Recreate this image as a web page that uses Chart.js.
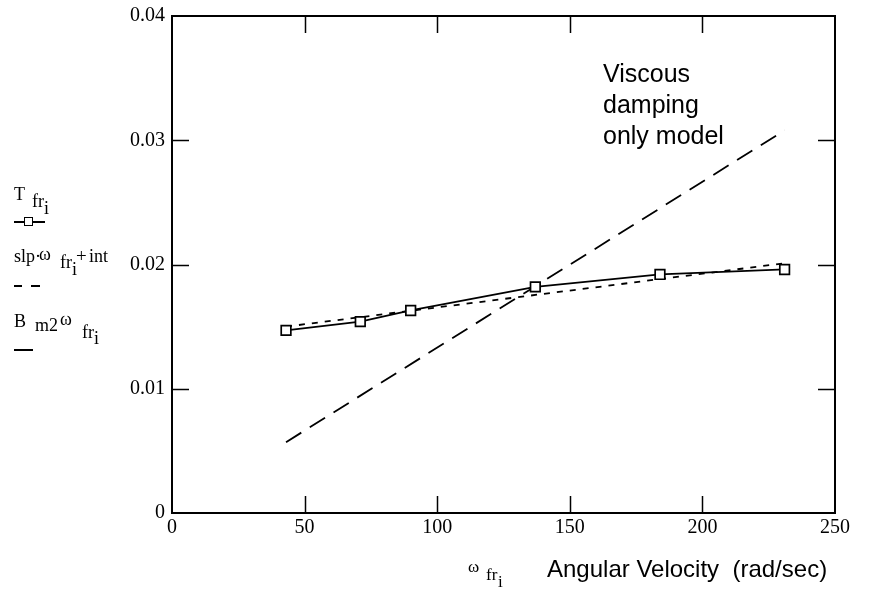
<!DOCTYPE html>
<html>
<head>
<meta charset="utf-8">
<script src="https://cdn.jsdelivr.net/npm/chart.js@4"></script>
<style>
  body { margin: 0; background: #fff; }
  #wrap { position: relative; width: 889px; height: 590px; overflow: hidden; }
  #grafica { position: absolute; left: 0; top: 0; }
  .txt { position: absolute; white-space: pre; line-height: 1; color: #000; }
  .serif { font-family: "Liberation Serif", "Times New Roman", serif; }
  .sans { font-family: "Liberation Sans", Arial, sans-serif; }
  .sym { position: absolute; background: #000; }
</style>
</head>
<body>
<div id="wrap">
  <canvas id="grafica" width="889" height="590"></canvas>
</div>
<script>
// datos
const omegaFr = [43, 71, 90, 137, 184, 231];          // rad/sec
const torqueFr = [0.0147, 0.0154, 0.0163, 0.0182, 0.0192, 0.0196];
const ajusteX = [43, 231];                              // slp*w + int
const ajusteY = [0.0150, 0.0201];
const viscosoX = [43, 231];                             // Bm2*w
const viscosoY = [0.0057, 0.0308];
const ticksX = [0, 50, 100, 150, 200, 250];
const ticksY = [0, 0.01, 0.02, 0.03, 0.04];

const pares = (xs, ys) => xs.map((x, i) => ({ x: x, y: ys[i] }));

// marco y marcas hacia adentro (estilo Mathcad)
const marcoPlugin = {
  id: "marco",
  afterDatasetsDraw(chart) {
    const { ctx, chartArea: a, scales } = chart;
    const L = 17;
    ctx.save();
    ctx.strokeStyle = "#000";
    ctx.lineWidth = 1.5;
    ticksX.slice(1, -1).forEach(v => {
      const px = Math.round(scales.x.getPixelForValue(v)) + 0.5;
      ctx.beginPath();
      ctx.moveTo(px, a.bottom); ctx.lineTo(px, a.bottom - L);
      ctx.moveTo(px, a.top); ctx.lineTo(px, a.top + L);
      ctx.stroke();
    });
    ticksY.slice(1, -1).forEach(v => {
      const py = Math.round(scales.y.getPixelForValue(v)) + 0.5;
      ctx.beginPath();
      ctx.moveTo(a.left, py); ctx.lineTo(a.left + L, py);
      ctx.moveTo(a.right, py); ctx.lineTo(a.right - L, py);
      ctx.stroke();
    });
    ctx.lineWidth = 2;
    ctx.strokeRect(a.left, a.top, a.right - a.left, a.bottom - a.top);
    ctx.restore();
  }
};

const fuenteTicks = { family: "'Liberation Serif', 'Times New Roman', serif", size: 20 };

new Chart(document.getElementById("grafica").getContext("2d"), {
  type: "line",
  data: {
    datasets: [
      {
        label: "T fr",
        data: pares(omegaFr, torqueFr),
        borderColor: "#000",
        borderWidth: 1.8,
        pointStyle: "rect",
        pointRadius: 6.8,
        pointBorderWidth: 1.7,
        pointBackgroundColor: "#fff",
        pointBorderColor: "#000",
        tension: 0
      },
      {
        label: "ajuste",
        data: pares(ajusteX, ajusteY),
        borderColor: "#000",
        borderWidth: 1.8,
        borderDash: [6, 7],
        pointRadius: 0,
        tension: 0
      },
      {
        label: "viscoso",
        data: pares(viscosoX, viscosoY),
        borderColor: "#000",
        borderWidth: 1.8,
        borderDash: [18, 10],
        pointRadius: 0,
        tension: 0
      }
    ]
  },
  options: {
    responsive: false,
    animation: false,
    layout: { padding: { top: 16, right: 54, left: 0, bottom: 0 } },
    plugins: { legend: { display: false }, tooltip: { enabled: false } },
    scales: {
      x: {
        type: "linear",
        min: 0, max: 250,
        afterBuildTicks: s => { s.ticks = ticksX.map(v => ({ value: v })); },
        afterFit: s => { s.height = 77; s.paddingLeft = 0; s.paddingRight = 0; },
        grid: { display: false, drawTicks: false },
        border: { display: false },
        ticks: { color: "#000", font: fuenteTicks, padding: 3, maxRotation: 0, autoSkip: false }
      },
      y: {
        type: "linear",
        min: 0, max: 0.04,
        afterBuildTicks: s => { s.ticks = ticksY.map(v => ({ value: v })); },
        afterFit: s => { s.width = 172; s.paddingTop = 0; s.paddingBottom = 0; },
        grid: { display: false, drawTicks: false },
        border: { display: false },
        ticks: {
          color: "#000", font: fuenteTicks, padding: 7, autoSkip: false,
          callback: v => v === 0 ? "0" : v.toFixed(2)
        }
      }
    }
  },
  plugins: [marcoPlugin]
});

// textos superpuestos (leyenda, etiqueta de eje y anotacion)
const wrap = document.getElementById("wrap");
function texto(t, x, base, size, fam) {
  const d = document.createElement("div");
  d.className = "txt " + fam;
  d.style.fontSize = size + "px";
  d.style.left = x + "px";
  d.style.top = (base - 0.84 * size) + "px";
  d.textContent = t;
  wrap.appendChild(d);
}
function barra(x, y, w, h) {
  const d = document.createElement("div");
  d.className = "sym";
  d.style.left = x + "px"; d.style.top = y + "px";
  d.style.width = w + "px"; d.style.height = h + "px";
  wrap.appendChild(d);
}

// leyenda 1: T fr_i
texto("T", 14, 200, 18, "serif");
texto("fr", 32, 207, 18, "serif");
texto("i", 44, 214, 18, "serif");
barra(14, 221, 31, 2);
const cuadro = document.createElement("div");
cuadro.style.cssText = "position:absolute;left:24px;top:217px;width:7px;height:7px;border:1.5px solid #000;background:#fff;";
wrap.appendChild(cuadro);

// leyenda 2: slp·ω fr_i + int
texto("slp\u00b7", 14, 262, 18, "serif");
texto("\u03c9", 39, 260, 18, "serif");
texto("fr", 60, 268, 18, "serif");
texto("i", 72, 275, 18, "serif");
texto("+", 76, 262, 19, "serif");
texto("int", 89, 262, 18, "serif");
barra(14, 285, 8, 2);
barra(31, 285, 9, 2);

// leyenda 3: B m2 ω fr_i
texto("B", 14, 327, 18, "serif");
texto("m2", 35, 331, 18, "serif");
texto("\u03c9", 60, 325, 18, "serif");
texto("fr", 82, 338, 18, "serif");
texto("i", 94, 344, 18, "serif");
barra(14, 349, 19, 2);

// etiqueta del eje x
texto("\u03c9", 468, 572, 17, "serif");
texto("fr", 486, 580, 17, "serif");
texto("i", 498, 587, 17, "serif");
texto("Angular Velocity  (rad/sec)", 547, 577, 24, "sans");

// anotacion
texto("Viscous", 603, 82, 25, "sans");
texto("damping", 603, 113, 25, "sans");
texto("only model", 603, 144, 25, "sans");
</script>
</body>
</html>
